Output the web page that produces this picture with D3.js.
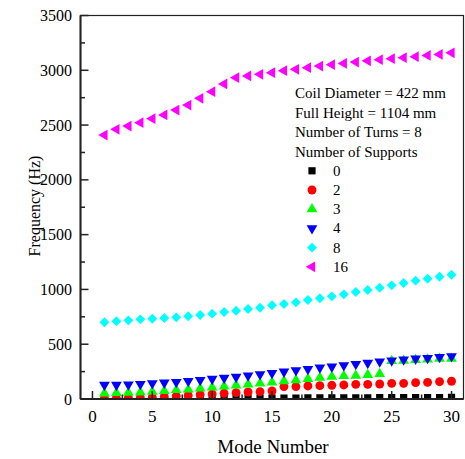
<!DOCTYPE html>
<html>
<head>
<meta charset="utf-8">
<script src="https://cdn.jsdelivr.net/npm/d3@7/dist/d3.min.js"></script>
<style>
  body { margin: 0; background: #fff; }
</style>
</head>
<body>
<div id="chart"></div>
<script>
const modes = d3.range(1, 31);

const supports0 = [2, 3, 3, 4, 4, 5, 5, 6, 6, 7, 7, 8, 8, 8, 9, 9, 9, 10, 10, 10, 11, 11, 11, 12, 12, 12, 13, 13, 13, 14];
const supports2 = [6, 6, 9, 12, 15, 21, 27, 33, 40, 46, 52, 58, 64, 67, 73, 113, 113, 119, 122, 125, 128, 134, 134, 137, 143, 143, 149, 152, 158, 162];
const supports3 = [52, 55, 58, 61, 67, 73, 82, 88, 97, 106, 116, 125, 134, 143, 152, 164, 173, 183, 195, 204, 210, 213, 219, 228, 347, 350, 356, 362, 368, 368];
const supports4 = [128, 128, 131, 137, 143, 149, 155, 164, 173, 183, 192, 201, 213, 225, 237, 249, 262, 274, 286, 295, 307, 319, 329, 341, 350, 359, 368, 374, 383, 389];
const supports8 = [700, 709, 718, 727, 733, 739, 745, 755, 767, 779, 794, 806, 821, 833, 855, 867, 882, 903, 919, 937, 955, 976, 995, 1016, 1037, 1059, 1080, 1098, 1116, 1134];
const supports16 = [2409, 2461, 2491, 2522, 2558, 2592, 2637, 2683, 2744, 2805, 2875, 2932, 2948, 2963, 2978, 2996, 3009, 3024, 3039, 3051, 3063, 3075, 3087, 3097, 3106, 3115, 3124, 3136, 3145, 3160];

const seriesNames = ["0", "2", "3", "4", "8", "16"];
const seriesValues = [supports0, supports2, supports3, supports4, supports8, supports16];
const seriesColors = ["#000000", "#ff0000", "#00ff00", "#0000ff", "#00ffff", "#ff00ff"];

const infoLines = ["Coil Diameter = 422 mm", "Full Height = 1104 mm", "Number of Turns = 8", "Number of Supports"];

const xTicks = [0, 5, 10, 15, 20, 25, 30];
const yTicks = [0, 500, 1000, 1500, 2000, 2500, 3000, 3500];

const W = 465, H = 459;
const margin = { top: 15.5, right: 1, bottom: 60, left: 80.5 };

const svg = d3.select("#chart").append("svg")
    .attr("width", W)
    .attr("height", H)
    .attr("font-family", "Liberation Serif");

const x = d3.scaleLinear().domain([-1, 31]).range([margin.left, W - margin.right - 0.5]);
const y = d3.scaleLinear().domain([0, 3500]).range([H - margin.bottom, margin.top]);

const x0 = x.range()[0], x1 = x.range()[1];
const y0 = y.range()[0], y1 = y.range()[1];

svg.append("defs").append("clipPath")
    .attr("id", "clip")
    .append("rect")
    .attr("x", x0).attr("y", y1)
    .attr("width", x1 - x0).attr("height", y0 - y1);

// marker shapes per series (diamond = square turned 45deg)
const shapes = [
    { type: d3.symbolSquare, size: 52, rot: 0 },
    { type: d3.symbolCircle, size: 62, rot: 0 },
    { type: d3.symbolTriangle, size: 50, rot: 0 },
    { type: d3.symbolTriangle, size: 50, rot: 180 },
    { type: d3.symbolSquare, size: 49, rot: 45 },
    { type: d3.symbolTriangle, size: 50, rot: -90 }
];

const plot = svg.append("g").attr("clip-path", "url(#clip)");

seriesValues.forEach((vals, i) => {
    const sh = shapes[i];
    plot.append("g")
        .selectAll("path")
        .data(vals.map((v, j) => ({ m: modes[j], v })))
        .join("path")
        .attr("d", d3.symbol().type(sh.type).size(sh.size))
        .attr("transform", d => `translate(${x(d.m)},${y(d.v)}) rotate(${sh.rot})`)
        .attr("fill", seriesColors[i]);
});

// frame
const frame = svg.append("g").attr("fill", "none").attr("stroke", "#222");
frame.append("rect")
    .attr("x", x0).attr("y", y1)
    .attr("width", x1 - x0).attr("height", y0 - y1)
    .attr("stroke-width", 1.2);
frame.append("line").attr("x1", x0).attr("x2", x0).attr("y1", y1).attr("y2", y0).attr("stroke-width", 2);
frame.append("line").attr("x1", x0).attr("x2", x1).attr("y1", y0).attr("y2", y0).attr("stroke-width", 2);

// ticks (inward)
const tickG = svg.append("g").attr("stroke", "#222").attr("stroke-width", 1.5);
yTicks.forEach(t => {
    tickG.append("line").attr("x1", x0).attr("x2", x0 + 8).attr("y1", y(t)).attr("y2", y(t));
});
d3.range(250, 3500, 500).forEach(t => {
    tickG.append("line").attr("x1", x0).attr("x2", x0 + 4.5).attr("y1", y(t)).attr("y2", y(t));
});
xTicks.forEach(t => {
    tickG.append("line").attr("x1", x(t)).attr("x2", x(t)).attr("y1", y0).attr("y2", y0 - 8);
});
d3.range(2.5, 30, 5).forEach(t => {
    tickG.append("line").attr("x1", x(t)).attr("x2", x(t)).attr("y1", y0).attr("y2", y0 - 4.5);
});

// tick labels
svg.append("g").selectAll("text")
    .data(yTicks)
    .join("text")
    .attr("x", 72)
    .attr("y", d => y(d) + 5.5)
    .attr("text-anchor", "end")
    .attr("font-size", 16)
    .text(d => d);

svg.append("g").selectAll("text")
    .data(xTicks)
    .join("text")
    .attr("x", d => x(d))
    .attr("y", 422)
    .attr("text-anchor", "middle")
    .attr("font-size", 17)
    .text(d => d);

// axis titles
svg.append("text")
    .attr("x", 273)
    .attr("y", 453)
    .attr("text-anchor", "middle")
    .attr("font-size", 19)
    .text("Mode Number");

svg.append("text")
    .attr("transform", `translate(40,206) rotate(-90)`)
    .attr("text-anchor", "middle")
    .attr("font-size", 16)
    .text("Frequency (Hz)");

// legend
const legend = svg.append("g");
legend.selectAll("text.info")
    .data(infoLines)
    .join("text")
    .attr("class", "info")
    .attr("x", 295)
    .attr("y", (d, i) => 98 + i * 19.6)
    .attr("font-size", 15)
    .text(d => d);

const ly = i => 170.8 + i * 19.2;
seriesNames.forEach((name, i) => {
    const sh = shapes[i];
    legend.append("path")
        .attr("d", d3.symbol().type(sh.type).size(sh.size)())
        .attr("transform", `translate(312,${ly(i)}) rotate(${sh.rot})`)
        .attr("fill", seriesColors[i]);
    legend.append("text")
        .attr("x", 333)
        .attr("y", ly(i) + 5)
        .attr("font-size", 15)
        .text(name);
});
</script>
</body>
</html>
